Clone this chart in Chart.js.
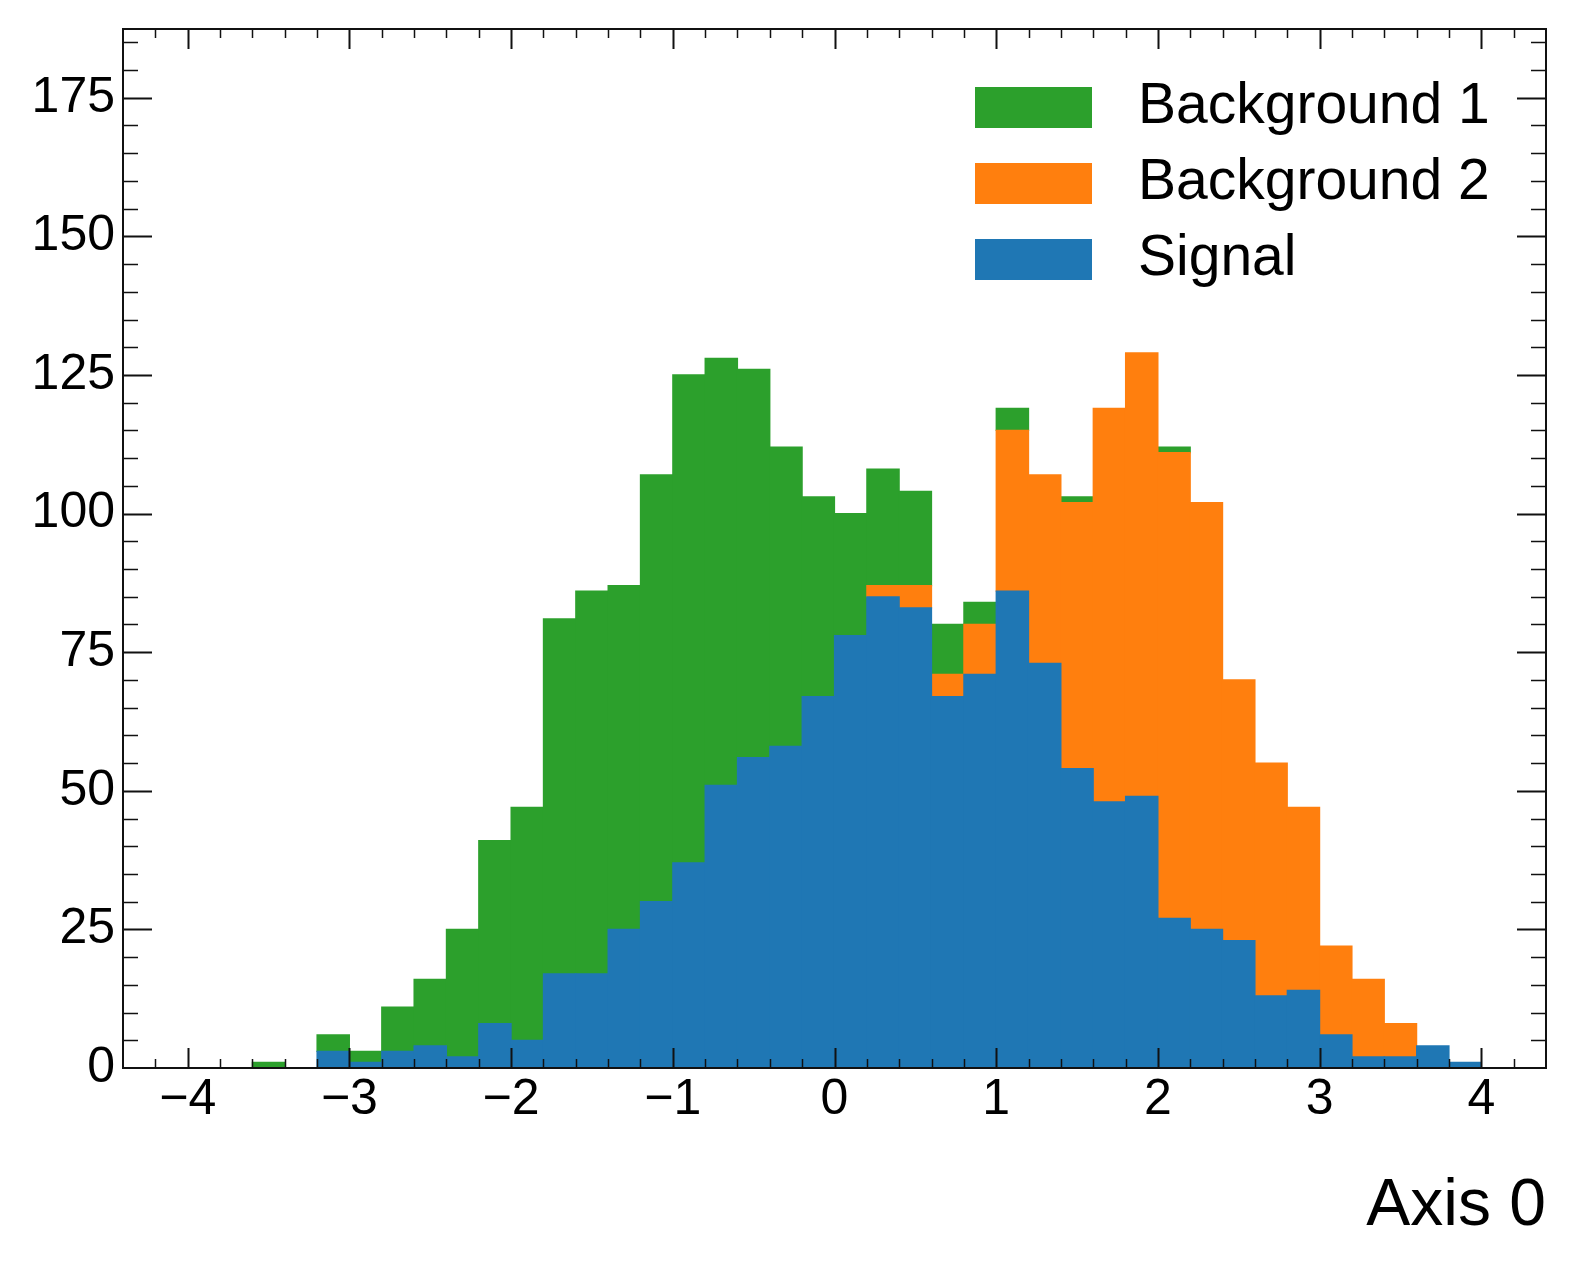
<!DOCTYPE html>
<html>
<head>
<meta charset="utf-8">
<title>Stacked histogram</title>
<script src="https://cdn.jsdelivr.net/npm/chart.js@4.4.1/dist/chart.umd.min.js"></script>
<style>
  html, body { margin: 0; padding: 0; background: #fff; }
  #wrap { width: 1576px; height: 1275px; }
</style>
</head>
<body>
<div id="wrap"><canvas id="hist"></canvas></div>
<script>
// bin centres (bins of width 0.2 from -4 to 4)
const binCenters = [-3.9, -3.7, -3.5, -3.3, -3.1, -2.9, -2.7, -2.5, -2.3, -2.1,
                    -1.9, -1.7, -1.5, -1.3, -1.1, -0.9, -0.7, -0.5, -0.3, -0.1,
                    0.1, 0.3, 0.5, 0.7, 0.9, 1.1, 1.3, 1.5, 1.7, 1.9,
                    2.1, 2.3, 2.5, 2.7, 2.9, 3.1, 3.3, 3.5, 3.7, 3.9];

// counts per bin, stacked bottom to top: signal, background 2, background 1
const signal = [0, 0, 0, 0, 3, 1, 3, 4, 2, 8,
                5, 17, 17, 25, 30, 37, 51, 56, 58, 67,
                78, 85, 83, 67, 71, 86, 73, 54, 48, 49,
                27, 25, 23, 13, 14, 6, 2, 2, 4, 1];
const background2 = [0, 0, 0, 0, 0, 0, 0, 0, 0, 0,
                     0, 0, 0, 0, 0, 0, 0, 0, 0, 0,
                     0, 2, 4, 4, 9, 29, 34, 48, 71, 80,
                     84, 77, 47, 42, 33, 16, 14, 6, 0, 0];
const background1 = [0, 0, 1, 0, 3, 2, 8, 12, 23, 33,
                     42, 64, 69, 62, 77, 88, 77, 70, 54, 36,
                     22, 21, 17, 9, 4, 4, 0, 1, 0, 0,
                     1, 0, 0, 0, 0, 0, 0, 0, 0, 0];

const xTicks = [-4, -3, -2, -1, 0, 1, 2, 3, 4];
const yTicks = [0, 25, 50, 75, 100, 125, 150, 175];

const FONT = "'Liberation Sans', Arial, Helvetica, sans-serif";
const INK = '#111';

function toPoints(values) {
    return binCenters.map((x, i) => ({ x: x, y: values[i] === 0 ? null : values[i] }));
}

function minus(v) {
    return String(v).replace('-', '\u2212');
}

// inward ticks on all four sides + frame (mplhep look)
const frameTicks = {
    id: 'frameTicks',
    afterDraw(chart) {
        const { ctx, chartArea: a, scales } = chart;
        const xs = scales.x, ys = scales.y;
        ctx.save();
        ctx.strokeStyle = INK;
        ctx.lineCap = 'butt';

        for (let k = -22; k <= 22; k++) {
            const major = k % 5 === 0;
            const px = Math.round(xs.getPixelForValue(k / 5)) + 0.5;
            if (px < a.left + 1 || px > a.right - 1) continue;
            const len = major ? 20 : 9;
            ctx.lineWidth = major ? 2 : 1.5;
            ctx.beginPath();
            ctx.moveTo(px, a.bottom); ctx.lineTo(px, a.bottom - len);
            ctx.moveTo(px, a.top); ctx.lineTo(px, a.top + len);
            ctx.stroke();
        }
        for (let v = 0; v <= 185; v += 5) {
            const major = v % 25 === 0;
            const py = Math.round(ys.getPixelForValue(v)) + 0.5;
            if (py > a.bottom - 1 || py < a.top + 1) continue;
            const len = major ? 29 : 15;
            ctx.lineWidth = major ? 2 : 1.5;
            ctx.beginPath();
            ctx.moveTo(a.left, py); ctx.lineTo(a.left + len, py);
            ctx.moveTo(a.right, py); ctx.lineTo(a.right - len, py);
            ctx.stroke();
        }
        ctx.lineWidth = 2;
        ctx.strokeRect(a.left, a.top, a.right - a.left, a.bottom - a.top);
        ctx.restore();
    }
};

// legend inside the plot, top right, reversed order
const boxLegend = {
    id: 'boxLegend',
    afterDraw(chart) {
        const { ctx, chartArea: a } = chart;
        const sets = chart.data.datasets.slice().reverse();
        ctx.save();
        ctx.font = '57px ' + FONT;
        ctx.textBaseline = 'middle';
        ctx.textAlign = 'left';
        sets.forEach((ds, i) => {
            const top = a.top + 58 + i * 76;
            const left = a.right - 571;
            ctx.fillStyle = ds.backgroundColor;
            ctx.fillRect(left, top, 117, 41);
            ctx.fillStyle = '#000';
            ctx.fillText(ds.label, left + 163, top + 20);
        });
        ctx.restore();
    }
};

const config = {
    type: 'bar',
    data: {
        datasets: [
            { label: 'Signal', data: toPoints(signal), backgroundColor: '#1f77b4' },
            { label: 'Background 2', data: toPoints(background2), backgroundColor: '#ff7f0e' },
            { label: 'Background 1', data: toPoints(background1), backgroundColor: '#2ca02c' }
        ]
    },
    options: {
        responsive: true,
        maintainAspectRatio: false,
        animation: false,
        datasets: {
            bar: { borderWidth: 0, barPercentage: 1, categoryPercentage: 1, inflateAmount: 0.6 }
        },
        layout: { padding: { top: 29, right: 30, left: 0, bottom: 0 } },
        plugins: {
            legend: { display: false },
            tooltip: { enabled: false }
        },
        scales: {
            x: {
                type: 'linear',
                min: -4.4,
                max: 4.4,
                stacked: true,
                offset: false,
                grid: { display: false, drawTicks: false, offset: false },
                border: { display: false },
                ticks: {
                    color: '#000',
                    font: { family: FONT, size: 50 },
                    padding: 2,
                    maxRotation: 0,
                    autoSkip: false,
                    includeBounds: false,
                    callback: v => minus(v)
                },
                afterBuildTicks: s => { s.ticks = xTicks.map(v => ({ value: v })); },
                afterFit: s => {
                    s.height = 207;
                    s.paddingLeft = 0;
                    s.paddingRight = 0;
                },
                title: {
                    display: true,
                    text: 'Axis 0',
                    align: 'end',
                    color: '#000',
                    font: { family: FONT, size: 66 },
                    padding: { top: 0, bottom: 29 }
                }
            },
            y: {
                min: 0,
                max: 187.4,
                stacked: true,
                grid: { display: false, drawTicks: false },
                border: { display: false },
                ticks: {
                    color: '#000',
                    font: { family: FONT, size: 50 },
                    padding: 8,
                    includeBounds: false
                },
                afterBuildTicks: s => { s.ticks = yTicks.map(v => ({ value: v })); },
                afterFit: s => {
                    s.width = 123;
                    s.paddingTop = 0;
                    s.paddingBottom = 0;
                }
            }
        }
    },
    plugins: [frameTicks, boxLegend]
};

const histChart = new Chart(document.getElementById('hist'), config);
</script>
</body>
</html>
